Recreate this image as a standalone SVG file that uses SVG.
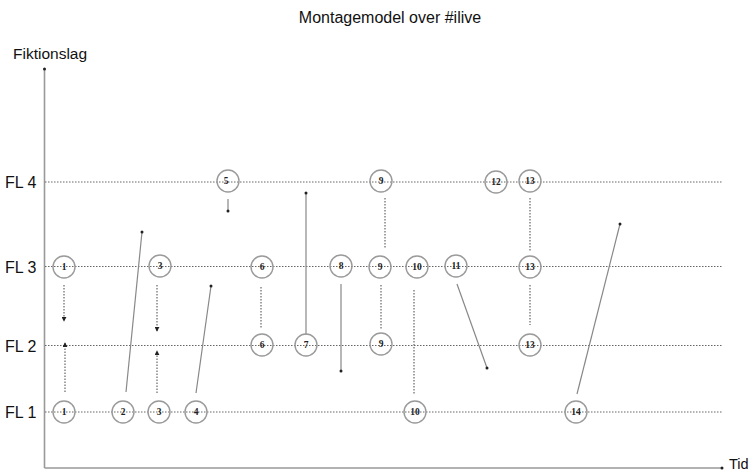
<svg xmlns="http://www.w3.org/2000/svg" width="753" height="472" viewBox="0 0 753 472">
<style>
.lbl{font-family:"Liberation Sans",Arial,sans-serif;fill:#111}
.fl{stroke:#666;stroke-width:1;stroke-dasharray:1.5 1.5;fill:none}
.dot{stroke:#666;stroke-width:1.2;stroke-dasharray:1.5 1.5;fill:none}
.sol{stroke:#888;stroke-width:1.2;fill:none}
.ax{stroke:#999;stroke-width:1.6;fill:none}
.nd circle{fill:none;stroke:#9a9a9a;stroke-width:1.4}
.nd text{font-family:"Liberation Serif","Times New Roman",serif;font-size:9.5px;fill:#222;text-anchor:middle;font-weight:bold}
</style>
<defs>
<marker id="dt" viewBox="0 0 4 4" refX="2" refY="2" markerWidth="4" markerHeight="4" markerUnits="userSpaceOnUse"><circle cx="2" cy="2" r="1.5" fill="#222"/></marker>
<marker id="ar" viewBox="0 0 6 6" refX="5" refY="3" markerWidth="5" markerHeight="5" markerUnits="userSpaceOnUse" orient="auto"><path d="M0,0 L6,3 L0,6 Z" fill="#222"/></marker>
</defs>
<text class="lbl" x="390" y="23" font-size="16" text-anchor="middle">Montagemodel over #ilive</text>
<text class="lbl" x="13" y="59" font-size="15.5">Fiktionslag</text>
<text class="lbl" x="729" y="469" font-size="14.5">Tid</text>
<text class="lbl" x="5" y="188" font-size="16">FL 4</text>
<text class="lbl" x="5" y="273" font-size="16">FL 3</text>
<text class="lbl" x="5" y="352" font-size="16">FL 2</text>
<text class="lbl" x="5" y="418" font-size="16">FL 1</text>
<g id="axes">
<line class="ax" x1="44.5" y1="468" x2="44.5" y2="69" marker-end="url(#dt)"/>
<line class="ax" x1="44.5" y1="468" x2="722" y2="468" marker-end="url(#dt)"/>
</g>
<g id="levels">
<line class="fl" x1="45" y1="182" x2="722" y2="182"/>
<line class="fl" x1="45" y1="266.5" x2="722" y2="266.5"/>
<line class="fl" x1="45" y1="345.5" x2="722" y2="345.5"/>
<line class="fl" x1="45" y1="412" x2="722" y2="412"/>
</g>
<g id="connectors">
<line class="dot" x1="64" y1="285" x2="64" y2="321" marker-end="url(#ar)"/>
<line class="dot" x1="65" y1="392" x2="65" y2="343" marker-end="url(#ar)"/>
<line class="dot" x1="157" y1="285" x2="157" y2="331" marker-end="url(#ar)"/>
<line class="dot" x1="157" y1="393" x2="157" y2="351" marker-end="url(#ar)"/>
<line class="sol" x1="126" y1="392" x2="142" y2="232" marker-end="url(#dt)"/>
<line class="sol" x1="196" y1="393" x2="211" y2="286" marker-end="url(#dt)"/>
<line class="sol" x1="228" y1="199" x2="228" y2="211" marker-end="url(#dt)"/>
<line class="dot" x1="261" y1="287" x2="261" y2="328"/>
<line class="sol" x1="306" y1="335" x2="306" y2="193" marker-end="url(#dt)"/>
<line class="sol" x1="341" y1="284" x2="341" y2="371" marker-end="url(#dt)"/>
<line class="dot" x1="385" y1="198" x2="385" y2="248"/>
<line class="dot" x1="381" y1="285" x2="381" y2="330"/>
<line class="dot" x1="414" y1="290" x2="414" y2="395"/>
<line class="sol" x1="457" y1="284" x2="487" y2="368" marker-end="url(#dt)"/>
<line class="dot" x1="530" y1="198" x2="530" y2="252"/>
<line class="dot" x1="530" y1="285" x2="530" y2="325"/>
<line class="sol" x1="577" y1="394" x2="620" y2="224" marker-end="url(#dt)"/>
</g>
<g id="n5" class="nd"><circle cx="228" cy="181" r="11"/><text x="226" y="184">5</text></g>
<g id="n9a" class="nd"><circle cx="381" cy="181" r="11"/><text x="381" y="184">9</text></g>
<g id="n12" class="nd"><circle cx="496" cy="182" r="11"/><text x="496" y="185">12</text></g>
<g id="n13a" class="nd"><circle cx="530" cy="181" r="11"/><text x="530" y="184">13</text></g>
<g id="n1a" class="nd"><circle cx="64" cy="267" r="11"/><text x="64" y="270">1</text></g>
<g id="n3a" class="nd"><circle cx="160" cy="266" r="11"/><text x="160" y="269">3</text></g>
<g id="n6a" class="nd"><circle cx="262" cy="267" r="11"/><text x="262" y="270">6</text></g>
<g id="n8" class="nd"><circle cx="341" cy="266" r="11"/><text x="341" y="269">8</text></g>
<g id="n9b" class="nd"><circle cx="380" cy="267" r="11"/><text x="380" y="270">9</text></g>
<g id="n10a" class="nd"><circle cx="417" cy="267" r="11"/><text x="417" y="270">10</text></g>
<g id="n11" class="nd"><circle cx="456" cy="266" r="11"/><text x="456" y="269">11</text></g>
<g id="n13b" class="nd"><circle cx="530" cy="267" r="11"/><text x="530" y="270">13</text></g>
<g id="n6b" class="nd"><circle cx="262" cy="345" r="11"/><text x="262" y="348">6</text></g>
<g id="n7" class="nd"><circle cx="306" cy="345" r="11"/><text x="306" y="348">7</text></g>
<g id="n9c" class="nd"><circle cx="381" cy="344" r="11"/><text x="381" y="347">9</text></g>
<g id="n13c" class="nd"><circle cx="530" cy="345" r="11"/><text x="530" y="348">13</text></g>
<g id="n1b" class="nd"><circle cx="64" cy="412" r="11"/><text x="64" y="415">1</text></g>
<g id="n2" class="nd"><circle cx="123" cy="412" r="11"/><text x="123" y="415">2</text></g>
<g id="n3b" class="nd"><circle cx="159" cy="412" r="11"/><text x="159" y="415">3</text></g>
<g id="n4" class="nd"><circle cx="196" cy="412" r="11"/><text x="196" y="415">4</text></g>
<g id="n10b" class="nd"><circle cx="415" cy="412" r="11"/><text x="415" y="415">10</text></g>
<g id="n14" class="nd"><circle cx="576" cy="412" r="11"/><text x="576" y="415">14</text></g>
</svg>
